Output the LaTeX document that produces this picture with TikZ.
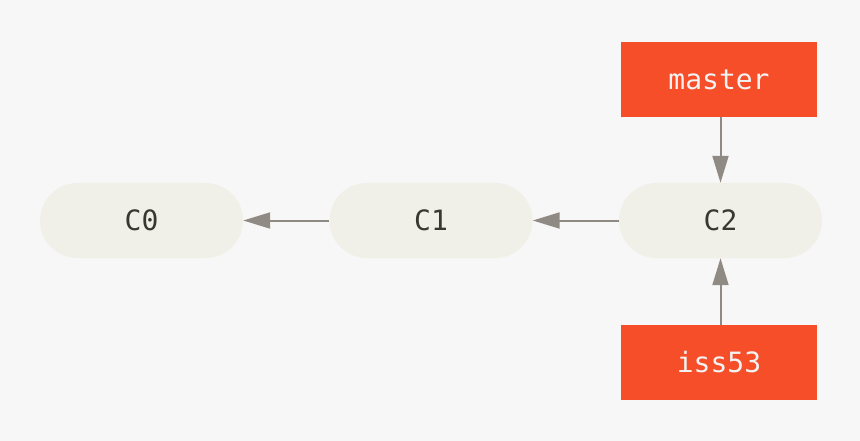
\documentclass[tikz,border=0pt]{standalone}
\usepackage{fontspec}
\setmonofont{DejaVu Sans Mono}
\usetikzlibrary{arrows.meta}
\definecolor{bgc}{HTML}{F7F7F7}
\definecolor{pillc}{HTML}{F0EFE8}
\definecolor{redc}{HTML}{F54E29}
\definecolor{arrc}{HTML}{8F8A83}
\definecolor{txtc}{HTML}{3A3733}
\definecolor{wtxt}{HTML}{F2F2F2}
\tikzset{
  commit/.style={fill=pillc, rounded corners=37.5pt, minimum width=203pt, minimum height=75pt, inner sep=0pt, text=txtc, font=\ttfamily\fontsize{28}{32}\selectfont},
  branch/.style={fill=redc, minimum width=196pt, minimum height=75pt, inner sep=0pt, text=wtxt, font=\ttfamily\fontsize{28}{32}\selectfont},
  conn/.style={draw=arrc, line width=2pt, -{Triangle[length=27pt,width=16pt]}, shorten >=0pt}
}
\begin{document}
\begin{tikzpicture}[x=1pt,y=-1pt]
\fill[bgc] (0,0) rectangle (860,441);
\useasboundingbox (0,0) rectangle (860,441);
\node[commit] (c0) at (141.5,220.5) {C0};
\node[commit] (c1) at (431,220.5) {C1};
\node[commit] (c2) at (720.5,220.5) {C2};
\node[branch] (master) at (719,79.5) {master};
\node[branch] (iss) at (719,362.5) {iss53};
\draw[conn] (c1.west) -- (c0.east);
\draw[conn] (c2.west) -- (c1.east);
\draw[conn] (master.south -| c2) -- (c2.north);
\draw[conn] (iss.north -| c2) -- (c2.south);
\end{tikzpicture}
\end{document}
